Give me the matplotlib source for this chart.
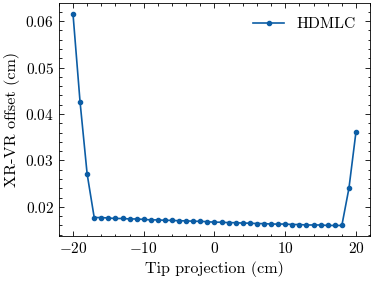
import matplotlib
matplotlib.use("Agg")
import matplotlib.pyplot as plt
from matplotlib.ticker import MultipleLocator

plt.rcParams.update({
    "font.family": "serif",
    "font.serif": ["cmr10", "DejaVu Serif"],
    "mathtext.fontset": "cm",
    "axes.formatter.use_mathtext": True,
    "font.size": 11,
    "axes.labelsize": 11.6,
    "legend.fontsize": 11.3,
    "axes.linewidth": 0.6,
    "xtick.direction": "in",
    "ytick.direction": "in",
    "xtick.top": True,
    "ytick.right": True,
    "xtick.major.size": 3.5,
    "ytick.major.size": 3.5,
    "xtick.minor.size": 1.8,
    "ytick.minor.size": 1.8,
    "xtick.major.width": 0.6,
    "ytick.major.width": 0.6,
    "xtick.minor.width": 0.6,
    "ytick.minor.width": 0.6,
    "xtick.minor.visible": True,
    "ytick.minor.visible": True,
})

tip_projection = list(range(-20, 21))
offset = [
    0.0616, 0.0426, 0.0271, 0.0177, 0.0177, 0.0176, 0.0175, 0.0175, 0.0174,
    0.0174, 0.0173, 0.0172, 0.0172, 0.0171, 0.0171, 0.0170, 0.0170, 0.0169,
    0.0169, 0.0168, 0.0167, 0.0167, 0.0166, 0.0166, 0.0165, 0.0165, 0.0164,
    0.0164, 0.0163, 0.0163, 0.0163, 0.0162, 0.0162, 0.0161, 0.0161, 0.0161,
    0.0160, 0.0160, 0.0160, 0.0240, 0.0362,
]
series_label = "HDMLC"
color = "#0C5DA5"

fig = plt.figure(figsize=(3.82, 2.81), dpi=100)
ax = fig.add_axes([0.154, 0.160, 0.815, 0.829])
ax.plot(tip_projection, offset, marker=".", color=color, lw=1.2, ms=6, label=series_label)
ax.set_xlabel("Tip projection (cm)")
ax.set_ylabel("XR-VR offset (cm)")
ax.xaxis.set_major_locator(MultipleLocator(10))
ax.xaxis.set_minor_locator(MultipleLocator(2))
ax.yaxis.set_major_locator(MultipleLocator(0.01))
ax.yaxis.set_minor_locator(MultipleLocator(0.002))
ax.legend(loc="upper right", frameon=False)
fig.savefig("out.png", dpi=100)
